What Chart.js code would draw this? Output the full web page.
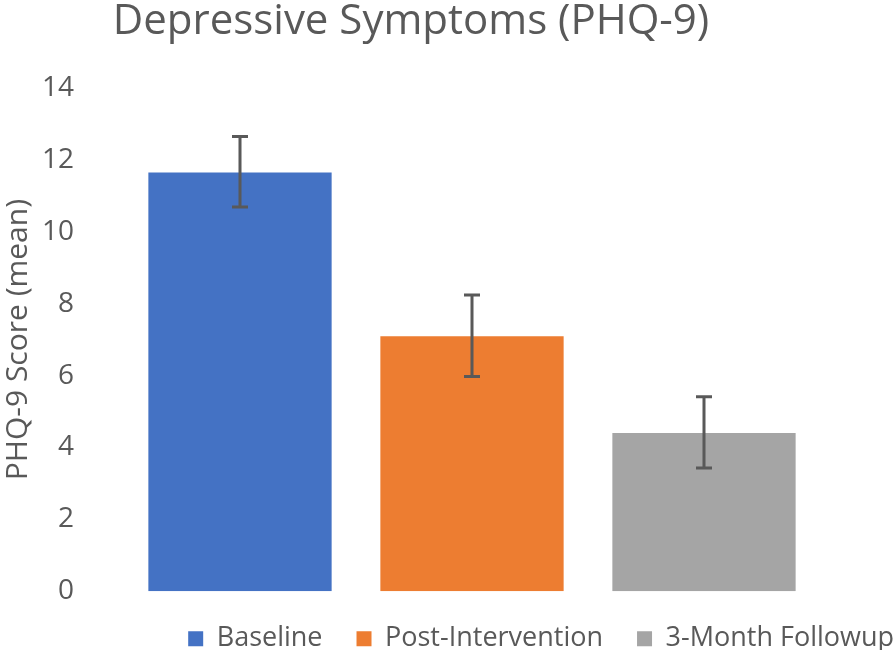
<!DOCTYPE html>
<html>
<head>
<meta charset="utf-8">
<script src="https://cdn.jsdelivr.net/npm/chart.js@4"></script>
<style>
  html, body { margin: 0; padding: 0; background: #fff; }
  #wrap { width: 894px; height: 650px; }
</style>
</head>
<body>
<div id="wrap"><canvas id="myChart" width="894" height="650"></canvas></div>
<script>
"use strict";

// данные
const chartTitle = 'Depressive Symptoms (PHQ-9)';
const categories = ['Baseline', 'Post-Intervention', '3-Month Followup'];
const means = [11.65, 7.09, 4.40];
const errLow = [10.69, 5.97, 3.43];
const errHigh = [12.65, 8.24, 5.41];
const colors = ['#4472C4', '#ED7D31', '#A5A5A5'];

const textColor = '#595959';
const fontFamily = "'Open Sans', sans-serif";

// заголовок рисуем сами, чтобы поставить его как в оригинале
const titlePlugin = {
    id: 'titlePlugin',
    afterDraw(chart) {
        const ctx = chart.ctx;
        ctx.save();
        ctx.fillStyle = textColor;
        ctx.font = '42px ' + fontFamily;
        ctx.textAlign = 'center';
        ctx.textBaseline = 'middle';
        ctx.fillText(chartTitle, 411, 22);
        ctx.restore();
    }
};

// плагин для усов (error bars)
const errorBars = {
    id: 'errorBars',
    afterDatasetsDraw(chart) {
        const ctx = chart.ctx;
        const y = chart.scales.y;
        const meta = chart.getDatasetMeta(0);
        ctx.save();
        ctx.strokeStyle = '#595959';
        ctx.lineWidth = 3;
        meta.data.forEach(function (bar, i) {
            const top = y.getPixelForValue(errHigh[i]);
            const bot = y.getPixelForValue(errLow[i]);
            ctx.beginPath();
            ctx.moveTo(bar.x, top);
            ctx.lineTo(bar.x, bot);
            ctx.moveTo(bar.x - 8, top);
            ctx.lineTo(bar.x + 8, top);
            ctx.moveTo(bar.x - 8, bot);
            ctx.lineTo(bar.x + 8, bot);
            ctx.stroke();
        });
        ctx.restore();
    }
};

const ctx = document.getElementById('myChart');
const myChart = new Chart(ctx, {
    type: 'bar',
    data: {
        labels: categories,
        datasets: [{
            label: 'PHQ-9',
            data: means,
            backgroundColor: colors,
            borderWidth: 0,
            barPercentage: 0.79,
            categoryPercentage: 1
        }]
    },
    options: {
        responsive: false,
        animation: false,
        layout: {
            padding: { left: 0, right: -34, top: 88, bottom: -14 }
        },
        scales: {
            x: {
                display: false
            },
            y: {
                min: 0,
                max: 14,
                ticks: {
                    stepSize: 2,
                    padding: 42,
                    color: textColor,
                    font: { family: fontFamily, size: 28 }
                },
                grid: { display: false },
                border: { display: false },
                title: {
                    display: true,
                    text: 'PHQ-9 Score (mean)',
                    color: textColor,
                    font: { family: fontFamily, size: 30 },
                    padding: 0
                },
                afterFit: function (scale) {
                    scale.width = 124;
                }
            },
            // пустая ось справа — просто место под отступ
            yRight: {
                position: 'right',
                display: true,
                ticks: { display: false },
                grid: { display: false },
                border: { display: false },
                afterFit: function (scale) {
                    scale.width = 108;
                }
            }
        },
        plugins: {
            title: { display: false },
            legend: {
                position: 'bottom',
                align: 'end',
                labels: {
                    color: textColor,
                    font: { family: fontFamily, size: 27 },
                    boxWidth: 15,
                    boxHeight: 15,
                    padding: 34,
                    generateLabels: function (chart) {
                        return categories.map(function (c, i) {
                            return {
                                text: c,
                                fillStyle: colors[i],
                                strokeStyle: colors[i],
                                lineWidth: 0,
                                fontColor: textColor,
                                index: i
                            };
                        });
                    }
                },
                onClick: function () {}
            },
            tooltip: { enabled: false }
        }
    },
    plugins: [errorBars, titlePlugin]
});
</script>
</body>
</html>
